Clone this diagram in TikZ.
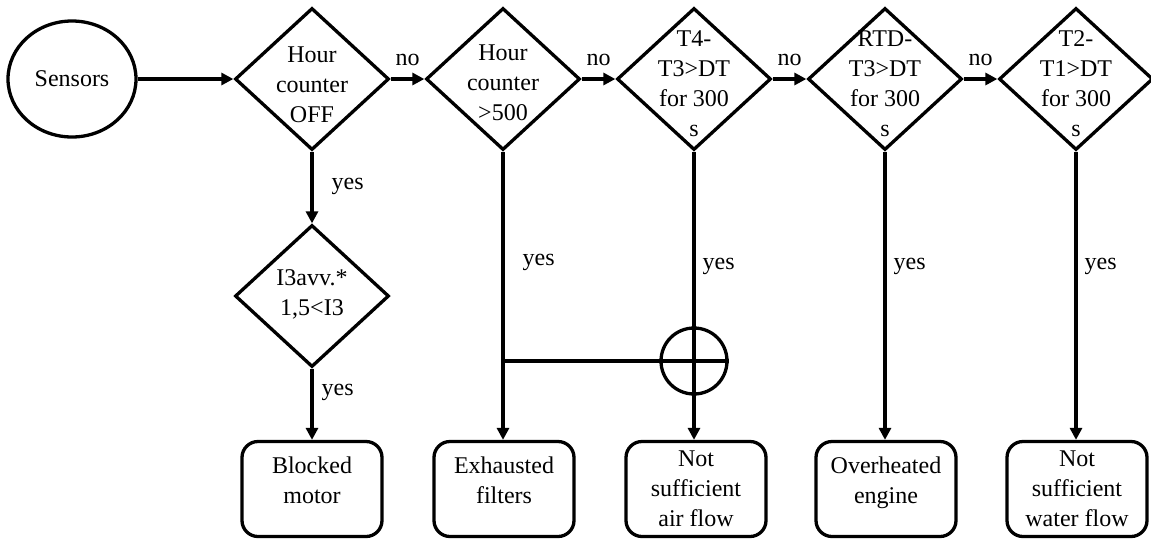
\documentclass[tikz,border=0pt]{standalone}
\usepackage{fontspec}
\setmainfont{Liberation Serif}
\usetikzlibrary{shapes.geometric,arrows.meta}
\begin{document}
\begin{tikzpicture}[x=1pt,y=-1pt,
  every node/.style={font=\fontsize{24}{30}\selectfont},
  line/.style={line width=3.3pt},
  arr/.style={line width=3.3pt,-{Triangle[length=12pt,width=12pt]}},
  dia/.style={draw,line width=3.3pt,diamond,minimum width=154pt,minimum height=142pt,inner sep=0pt},
  txt/.style={align=center,inner sep=0pt},
  box/.style={draw,line width=3.3pt,rounded corners=16pt,minimum width=140pt,minimum height=95pt,align=center,inner sep=0pt},
  twoline/.style={text depth=18pt},
  nolab/.style={midway,above,inner sep=0pt,yshift=12pt},
  yeslab/.style={anchor=west,inner sep=0pt},
]
\useasboundingbox (0,0) rectangle (1151,539);
\node[draw,line width=3.3pt,ellipse,minimum width=128pt,minimum height=116pt] (sens) at (72,79) {Sensors};
\node[dia] (d1) at (312,79) {};
\node[dia] (d2) at (503,79) {};
\node[dia] (d3) at (694,79) {};
\node[dia] (d4) at (885,79) {};
\node[dia] (d5) at (1076,79) {};
\node[dia] (d6) at (312,296) {};
\node[txt,yshift=-6pt] (t1) at (d1) {Hour\\counter\\OFF};
\node[txt,yshift=-4pt] (t2) at (d2) {Hour\\counter\\>500};
\node[txt,yshift=-5pt] (t3) at (d3) {T4-\\T3>DT\\for 300\\s};
\node[txt,yshift=-5pt] (t4) at (d4) {RTD-\\T3>DT\\for 300\\s};
\node[txt,yshift=-5pt] (t5) at (d5) {T2-\\T1>DT\\for 300\\s};
\node[txt,yshift=2pt] (t6) at (d6) {I3avv.*\\1,5<I3};
\node[box,twoline] (b1) at (312,489) {Blocked\\motor};
\node[box,twoline] (b2) at (504,489) {Exhausted\\filters};
\node[box] (b3) at (696,489) {Not\\sufficient\\air flow};
\node[box,twoline] (b4) at (886,489) {Overheated\\engine};
\node[box] (b5) at (1077,489) {Not\\sufficient\\water flow};
\coordinate (xl) at (0,361);
\node[draw,circle,line width=3.3pt,minimum size=66pt,inner sep=0pt] (xor) at (d3 |- xl) {};
\coordinate (j) at (d2 |- xl);
\draw[arr] (sens.east) -- (d1.west);
\draw[arr] (d1.east) -- node[nolab]{no} (d2.west);
\draw[arr] (d2.east) -- node[nolab]{no} (d3.west);
\draw[arr] (d3.east) -- node[nolab]{no} (d4.west);
\draw[arr] (d4.east) -- node[nolab]{no} (d5.west);
\draw[arr] (d1.south) -- node[yeslab,pos=0.48,xshift=18pt]{yes} (d6.north);
\draw[arr] (d6.south) -- node[yeslab,pos=0.33,xshift=8pt]{yes} (b1.north);
\draw[arr] (d2.south) -- node[yeslab,pos=0.385,xshift=18pt]{yes} (d2 |- b2.north);
\draw[arr] (d3.south) -- node[yeslab,pos=0.4,xshift=7pt]{yes} (d3 |- b3.north);
\draw[arr] (d4.south) -- node[yeslab,pos=0.4,xshift=7pt]{yes} (d4 |- b4.north);
\draw[arr] (d5.south) -- node[yeslab,pos=0.4,xshift=7pt]{yes} (d5 |- b5.north);
\draw[line] (j) -- (xor.east);
\end{tikzpicture}
\end{document}
